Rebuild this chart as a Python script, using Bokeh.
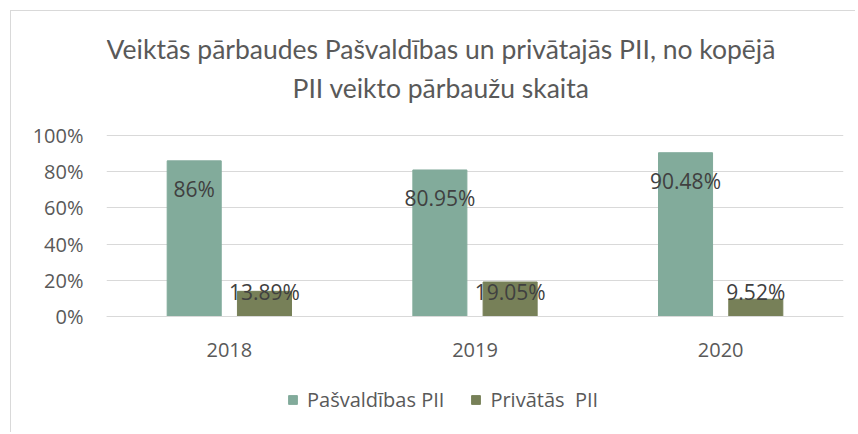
from bokeh.plotting import figure
from bokeh.models import (ColumnDataSource, FactorRange, Range1d, NumeralTickFormatter,
                          Legend, LegendItem, FixedTicker)
from bokeh.transform import dodge
from bokeh.core.properties import value
from bokeh.embed import file_html
from bokeh.resources import INLINE

# ---- data ----
years = ["2018", "2019", "2020"]
pasvaldibas = [0.86, 0.8095, 0.9048]
privatas = [0.1389, 0.1905, 0.0952]
pasvaldibas_labels = ["86%", "80.95%", "90.48%"]
privatas_labels = ["13.89%", "19.05%", "9.52%"]
series_names = ["Pašvaldības PII", "Privātās  PII"]
title_lines = ["Veiktās pārbaudes Pašvaldības un privātajās PII, no kopējā",
               "PII veikto pārbaužu skaita"]
y_ticks = [0, 0.2, 0.4, 0.6, 0.8, 1.0]

# ---- styles / layout ----
TEAL = "#82AB9B"
OLIVE = "#778058"
TXT = "#595959"
LBL = "#404040"
GRID = "#D9D9D9"
FONT = "Open Sans"
TITLE_FONT = "Lato"

W, H = 845, 422
LEFT, RIGHT = 95, 13
PXU = 181.0            # pixels per 100 %
ZERO_FROM_TOP = 305    # pixels from the top of the figure to the 0 % line
y_end = ZERO_FROM_TOP / PXU
y_start = -(H - ZERO_FROM_TOP) / PXU

def label_offsets(vals):
    # label centre 28px below the bar top, but not lower than 25px above zero
    return [-max(v * PXU - 28, 25) for v in vals]

src = ColumnDataSource(dict(
    x=years, a=pasvaldibas, b=privatas,
    la=pasvaldibas_labels, lb=privatas_labels,
    zero=[0] * len(years),
    oa=label_offsets(pasvaldibas), ob=label_offsets(privatas),
))

p = figure(x_range=FactorRange(*years), y_range=Range1d(y_start, y_end),
           width=W, height=H, output_backend="svg", toolbar_location=None,
           min_border_left=LEFT, min_border_right=RIGHT,
           min_border_top=0, min_border_bottom=0, title=None)
p.styles = {"margin-left": "10px", "margin-top": "10px",
            "border-left": f"1px solid {GRID}", "border-top": f"1px solid {GRID}"}
p.outline_line_color = None
p.x_range.range_padding = 0

r1 = p.vbar(x=dodge("x", -0.143, range=p.x_range), top="a", width=0.22, source=src,
            fill_color=TEAL, line_color=TEAL)
r2 = p.vbar(x=dodge("x", 0.143, range=p.x_range), top="b", width=0.22, source=src,
            fill_color=OLIVE, line_color=OLIVE)

p.text(x=dodge("x", -0.143, range=p.x_range), y="zero", text="la", y_offset="oa", source=src,
       text_align="center", text_baseline="middle", text_font=value(FONT),
       text_font_size="21px", text_color=LBL)
p.text(x=dodge("x", 0.143, range=p.x_range), y="zero", text="lb", y_offset="ob", source=src,
       text_align="center", text_baseline="middle", text_font=value(FONT),
       text_font_size="21px", text_color=LBL)

# title: two centred lines above the plotting area
tsrc = ColumnDataSource(dict(t=title_lines, x=["2019", "2019"],
                             y=[(ZERO_FROM_TOP - 37) / PXU, (ZERO_FROM_TOP - 76) / PXU]))
p.text(x=dodge("x", -34 / 245.67, range=p.x_range), y="y", text="t", source=tsrc,
       text_align="center", text_baseline="middle", text_font=value(TITLE_FONT),
       text_font_size="26.5px", text_color=TXT)

# axes
p.yaxis.ticker = FixedTicker(ticks=y_ticks)
p.yaxis.formatter = NumeralTickFormatter(format="0%")
for ax in (p.xaxis[0], p.yaxis[0]):
    ax.major_tick_line_color = None
    ax.minor_tick_line_color = None
    ax.major_label_text_font = FONT
    ax.major_label_text_font_size = "20px"
    ax.major_label_text_color = TXT
p.yaxis.axis_line_color = None
p.yaxis.major_label_standoff = 17
p.xaxis.fixed_location = 0
p.xaxis.axis_line_color = GRID
p.xaxis.major_label_standoff = 20
p.xgrid.grid_line_color = None
p.ygrid.grid_line_color = GRID
p.ygrid.ticker = FixedTicker(ticks=y_ticks)

legend = Legend(items=[LegendItem(label=series_names[0], renderers=[r1]),
                       LegendItem(label=series_names[1], renderers=[r2])],
                orientation="horizontal", location=(181, 20),
                label_text_font=FONT, label_text_font_size="20px", label_text_color=TXT,
                glyph_width=11, glyph_height=11, label_standoff=9, spacing=26,
                padding=0, margin=0, border_line_color=None, background_fill_alpha=0)
p.add_layout(legend, "center")

open("out.html", "w").write(file_html(p, INLINE))
